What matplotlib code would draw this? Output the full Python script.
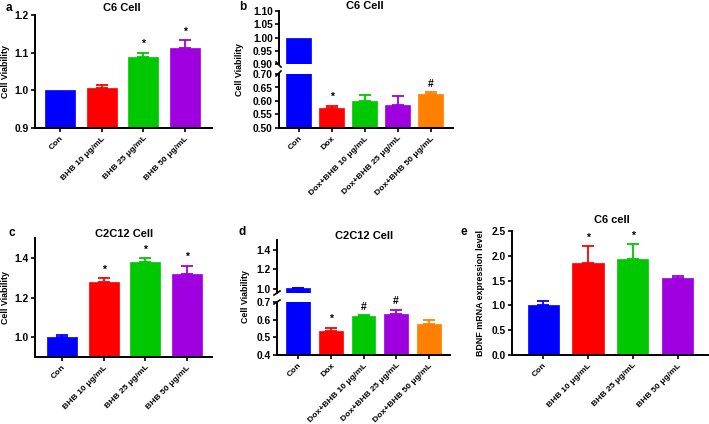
import matplotlib
matplotlib.use("Agg")
import matplotlib.pyplot as plt
from matplotlib.lines import Line2D

plt.rcParams['font.family'] = ['Liberation Sans', 'DejaVu Sans']
plt.rcParams['font.weight'] = 'bold'

W, H = 709, 424
DPI = 100

# ---------------- data ----------------
cats_bhb = ["Con", "BHB 10 \u03bcg/mL", "BHB 25 \u03bcg/mL", "BHB 50 \u03bcg/mL"]
cats_dox = ["Con", "Dox", "Dox+BHB 10 \u03bcg/mL", "Dox+BHB 25 \u03bcg/mL", "Dox+BHB 50 \u03bcg/mL"]

a_vals = [1.000, 1.007, 1.088, 1.112]
a_err = [0.0, 0.008, 0.012, 0.022]
a_marks = ["", "", "*", "*"]

b_vals = [1.000, 0.575, 0.600, 0.585, 0.625]
b_err = [0.0, 0.008, 0.021, 0.032, 0.008]
b_marks = ["", "*", "", "", "#"]

c_vals = [1.003, 1.280, 1.378, 1.320]
c_err = [0.008, 0.017, 0.022, 0.040]
c_marks = ["", "*", "*", "*"]

d_vals = [1.010, 0.535, 0.620, 0.633, 0.577]
d_err = [0.005, 0.020, 0.005, 0.022, 0.020]
d_marks = ["", "*", "#", "#", ""]

e_vals = [1.01, 1.85, 1.94, 1.55]
e_err = [0.08, 0.34, 0.30, 0.05]
e_marks = ["", "*", "*", ""]

colors4 = ["#0000FF", "#FF0000", "#00C800", "#A000E0"]
colors5 = ["#0000FF", "#FF0000", "#00C800", "#A000E0", "#FF8000"]

TICK_FS = 7.4
TITLE_FS = 8.0
CAT_FS = 6.1
LETTER_FS = 8.5
YLAB_FS = 6.4

fig = plt.figure(figsize=(W / DPI, H / DPI), dpi=DPI)


def px_axes(x0, y0, x1, y1):
    return fig.add_axes([x0 / W, (H - y1) / H, (x1 - x0) / W, (y1 - y0) / H])


def style(ax, bottom=True):
    for s in ["top", "right"]:
        ax.spines[s].set_visible(False)
    ax.spines["left"].set_linewidth(1.4)
    ax.spines["bottom"].set_linewidth(1.4)
    if not bottom:
        ax.spines["bottom"].set_visible(False)
    ax.tick_params(axis="y", length=3, width=1.2, labelsize=TICK_FS, pad=1.5)
    ax.tick_params(axis="x", length=3, width=1.2, labelsize=CAT_FS, pad=2)
    for lab in ax.get_yticklabels():
        lab.set_fontweight("bold")


def draw_bars(ax, vals, errs, cols, width, marks=None, mark_off=2.5):
    x = list(range(len(vals)))
    ax.bar(x, vals, width=width, color=cols, edgecolor=cols, linewidth=0.5, zorder=2)
    for i, (v, e, c) in enumerate(zip(vals, errs, cols)):
        if e > 0:
            ax.errorbar([i], [v], yerr=[[0], [e]], fmt="none", ecolor=c,
                        elinewidth=1.3, capsize=4, capthick=1.3, zorder=1)
        if marks and marks[i]:
            ax.annotate(marks[i], xy=(i, v + e), xytext=(0, mark_off),
                        textcoords="offset points", ha="center", va="bottom",
                        fontsize=7.5, fontweight="bold")


def set_cats(ax, cats):
    ax.set_xticks(range(len(cats)))
    ax.set_xticklabels(cats, rotation=45, ha="right", rotation_mode="anchor",
                       fontsize=CAT_FS, fontweight="bold")


def fig_text(x, y, s, **kw):
    fig.text(x / W, 1 - y / H, s, **kw)


def brk(x0, y0, x1, y1):
    fig.add_artist(Line2D([x0 / W, x1 / W], [1 - y0 / H, 1 - y1 / H],
                          color="black", lw=1.2))


# ---------------- panel a ----------------
ax = px_axes(35, 15, 212, 128)
draw_bars(ax, a_vals, a_err, colors4, 0.72, a_marks)
ax.set_ylim(0.9, 1.2)
ax.set_yticks([0.9, 1.0, 1.1, 1.2])
ax.set_xlim(-0.6, 3.65)
set_cats(ax, cats_bhb)
style(ax)
fig_text(122, 8, "C6 Cell", ha="center", va="center", fontsize=TITLE_FS, fontweight="bold")
fig_text(9, 8, "a", ha="center", va="center", fontsize=LETTER_FS, fontweight="bold")
fig_text(6, 72, "Cell Viability", ha="center", va="center", rotation=90,
         fontsize=YLAB_FS, fontweight="bold")

# ---------------- panel b (broken axis) ----------------
axb_u = px_axes(279, 11, 453, 64)
axb_l = px_axes(279, 74, 453, 128)
for axx in (axb_u, axb_l):
    draw_bars(axx, b_vals, b_err, colors5, 0.75, b_marks if axx is axb_l else None)
    axx.set_xlim(-0.6, 4.68)
axb_u.set_ylim(0.90, 1.10)
axb_u.set_yticks([0.90, 0.95, 1.00, 1.05, 1.10])
axb_u.set_yticklabels(["0.90", "0.95", "1.00", "1.05", "1.10"])
axb_u.set_xticks([])
axb_l.set_ylim(0.50, 0.70)
axb_l.set_yticks([0.50, 0.55, 0.60, 0.65, 0.70])
axb_l.set_yticklabels(["0.50", "0.55", "0.60", "0.65", "0.70"])
set_cats(axb_l, cats_dox)
style(axb_u, bottom=False)
style(axb_l)
fig_text(365, 6, "C6 Cell", ha="center", va="center", fontsize=TITLE_FS, fontweight="bold")
fig_text(243, 7, "b", ha="center", va="center", fontsize=LETTER_FS, fontweight="bold")
fig_text(240, 70, "Cell Viability", ha="center", va="center", rotation=90,
         fontsize=YLAB_FS, fontweight="bold")
brk(276, 62, 281, 67)
brk(276, 76, 281, 71)

# ---------------- panel c ----------------
ax = px_axes(35, 238, 212, 357)
draw_bars(ax, c_vals, c_err, colors4, 0.72, c_marks)
ax.set_ylim(0.9, 1.5)
ax.set_yticks([1.0, 1.2, 1.4])
ax.set_xlim(-0.65, 3.6)
set_cats(ax, cats_bhb)
style(ax)
fig_text(124, 234, "C2C12 Cell", ha="center", va="center", fontsize=TITLE_FS, fontweight="bold")
fig_text(12, 233, "c", ha="center", va="center", fontsize=LETTER_FS, fontweight="bold")
fig_text(6, 298, "Cell Viability", ha="center", va="center", rotation=90,
         fontsize=YLAB_FS, fontweight="bold")

# ---------------- panel d (broken axis) ----------------
axd_u = px_axes(277, 240, 450, 293)
axd_l = px_axes(277, 302, 450, 355)
for axx in (axd_u, axd_l):
    draw_bars(axx, d_vals, d_err, colors5, 0.72, d_marks if axx is axd_l else None)
    axx.set_xlim(-0.65, 4.65)
axd_u.set_ylim(0.96, 1.5)
axd_u.set_yticks([1.0, 1.2, 1.4])
axd_u.set_xticks([])
axd_l.set_ylim(0.4, 0.7)
axd_l.set_yticks([0.4, 0.5, 0.6, 0.7])
set_cats(axd_l, cats_dox)
style(axd_u, bottom=False)
style(axd_l)
fig_text(364, 236, "C2C12 Cell", ha="center", va="center", fontsize=TITLE_FS, fontweight="bold")
fig_text(242, 232, "d", ha="center", va="center", fontsize=LETTER_FS, fontweight="bold")
fig_text(245, 297, "Cell Viability", ha="center", va="center", rotation=90,
         fontsize=YLAB_FS, fontweight="bold")
brk(274, 295, 280, 291)
brk(274, 304, 280, 300)

# ---------------- panel e ----------------
ax = px_axes(512, 231, 708, 355)
draw_bars(ax, e_vals, e_err, colors4, 0.7, e_marks)
ax.set_ylim(0, 2.5)
ax.set_yticks([0.0, 0.5, 1.0, 1.5, 2.0, 2.5])
ax.set_xlim(-0.7, 3.68)
set_cats(ax, cats_bhb)
style(ax)
fig_text(612, 220, "C6 cell", ha="center", va="center", fontsize=TITLE_FS, fontweight="bold")
fig_text(464, 232, "e", ha="center", va="center", fontsize=LETTER_FS, fontweight="bold")
fig_text(481, 293, "BDNF mRNA expression level", ha="center", va="center", rotation=90,
         fontsize=YLAB_FS, fontweight="bold")

fig.savefig("out.png", dpi=DPI)
